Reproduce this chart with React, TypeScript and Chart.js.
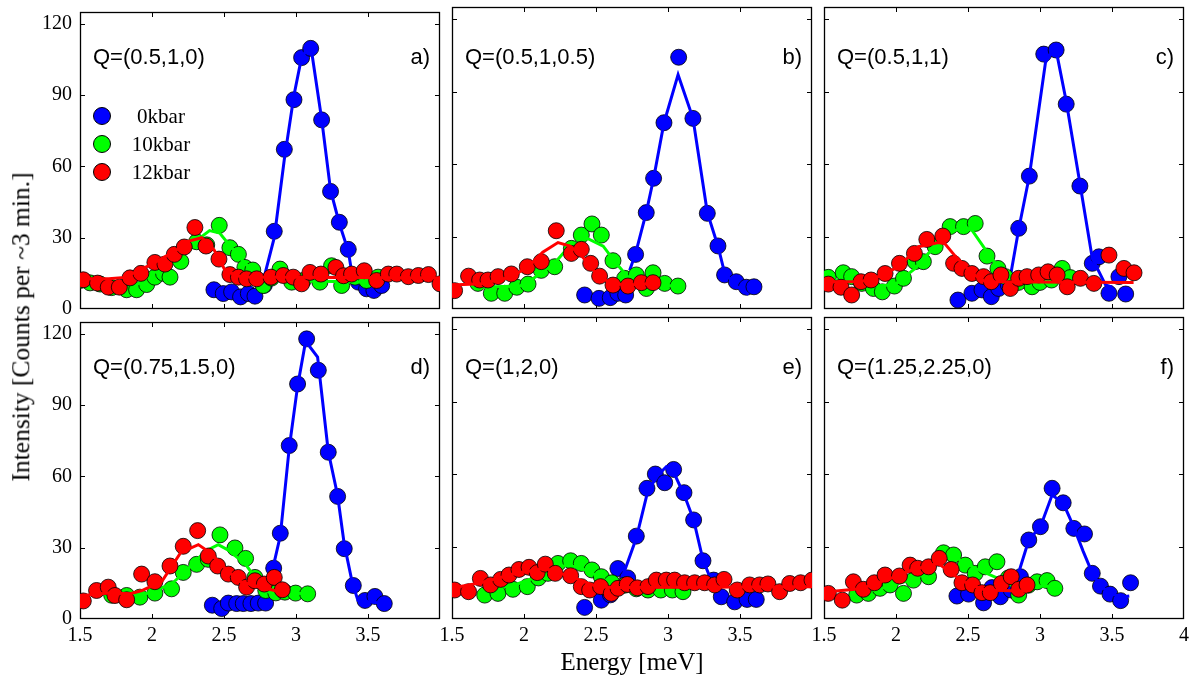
import React, { useEffect, useRef } from "react";
import { Chart, registerables } from "chart.js";

Chart.register(...registerables);

type Pt = [number, number];

// ---------- Panel a) Q=(0.5,1,0) ----------
const aBlue: Pt[] = [[2.43,8.1],[2.495,6.5],[2.553,7.2],[2.615,5.1],[2.669,6.5],[2.715,5.4],[2.78,10],[2.849,32.7],[2.919,67.2],[2.986,88.1],[3.039,105.8],[3.102,109.7],[3.178,79.6],[3.24,49.5],[3.301,36.5],[3.363,25.1],[3.433,11.3],[3.49,8.5],[3.541,7.8],[3.595,9.9]];
const aBlueFit: Pt[] = [[2.76,9],[2.849,30],[2.919,63],[2.986,90],[3.039,106],[3.102,111],[3.178,80],[3.24,50],[3.301,36],[3.363,24.4],[3.398,11.5],[3.56,11.3]];
const aGreen: Pt[] = [[1.5,12.0],[1.57,11],[1.64,10.5],[1.72,9],[1.824,8.1],[1.893,8.1],[1.963,10.3],[2.02,13.4],[2.08,15],[2.125,13.4],[2.2,20],[2.31,28.3],[2.38,27],[2.467,35.2],[2.541,25.8],[2.6,23],[2.645,17.5],[2.7,16.4],[2.773,9.9],[2.83,13],[2.889,16.8],[2.97,11.3],[3.05,12],[3.166,11.3],[3.247,18.2],[3.317,9.9],[3.41,13.4],[3.49,12],[3.57,13.4]];
const aGreenFit: Pt[] = [[1.5,11.3],[1.77,10],[1.9,10.5],[2.02,15.5],[2.16,20],[2.27,27],[2.4,33],[2.47,32],[2.55,26],[2.65,19],[2.76,12.5],[2.85,12],[3.57,11.3]];
const aRed: Pt[] = [[1.523,12.3],[1.622,10.9],[1.696,9.2],[1.773,9.2],[1.847,13.1],[1.923,15.0],[2.02,19.6],[2.09,18.9],[2.155,23.0],[2.224,26.1],[2.298,34.3],[2.375,26.5],[2.465,21.0],[2.541,14.5],[2.6,13.4],[2.657,12.7],[2.727,12.7],[2.826,13.4],[2.912,14.1],[2.981,13.4],[3.039,10.6],[3.097,15.4],[3.173,14.7],[3.277,17.5],[3.33,14],[3.386,14.7],[3.474,16.1],[3.56,12.0],[3.641,14.7],[3.7,14.7],[3.78,13.6],[3.85,14.1],[3.92,14.5],[4.0,10.6]];
const aRedFit: Pt[] = [[1.5,12.7],[1.7,12.7],[1.81,13.3],[2.0,18.9],[2.16,24.4],[2.25,28.5],[2.345,30],[2.43,25],[2.51,16],[2.62,13.5],[4.0,13]];

// ---------- Panel b) Q=(0.5,1,0.5) ----------
const bBlue: Pt[] = [[2.421,5.8],[2.521,4.4],[2.599,4.7],[2.652,6.5],[2.706,5.8],[2.775,22.6],[2.849,39.9],[2.9,54.1],[2.972,77.1],[3.074,104.2],[3.173,78.9],[3.273,39.6],[3.347,26.1],[3.393,14.1],[3.474,11.3],[3.544,9.0],[3.597,9.2]];
const bBlueFit: Pt[] = [[2.734,16],[2.775,23],[2.849,40],[2.9,54],[2.972,77],[3.07,97],[3.173,79],[3.273,40],[3.347,26],[3.393,15],[3.474,9.5],[3.56,6]];
const bGreen: Pt[] = [[1.68,10.6],[1.773,6.5],[1.866,6.5],[1.95,9],[2.028,10.3],[2.12,16],[2.213,17.5],[2.329,25.1],[2.398,30.6],[2.472,35.2],[2.537,30.6],[2.618,20.0],[2.699,12.7],[2.78,14.1],[2.85,8.5],[2.896,15.0],[2.977,10.6],[3.069,9.5]];
const bGreenFit: Pt[] = [[1.68,9],[1.97,9.5],[2.05,12],[2.213,19],[2.3,25],[2.44,29.2],[2.55,26],[2.64,18.9],[2.72,13.4],[2.82,10],[3.07,9.5]];
const bRed: Pt[] = [[1.518,7.6],[1.615,13.6],[1.692,12.0],[1.75,12.0],[1.82,13.4],[1.912,14.5],[2.023,17.5],[2.12,19.6],[2.224,32.4],[2.329,23.0],[2.398,24.7],[2.463,18.9],[2.525,13.6],[2.618,9.9],[2.722,9.5],[2.815,10.9],[2.896,10.9]];
const bRedFit: Pt[] = [[1.472,9.9],[1.7,10.5],[1.9,13],[2.03,17.5],[2.13,23.5],[2.236,27.5],[2.32,26],[2.4,22],[2.52,13.4],[2.62,10.3],[2.75,10.0],[2.9,10.6]];

// ---------- Panel c) Q=(0.5,1,1) ----------
const cBlue: Pt[] = [[2.43,3.7],[2.527,6.5],[2.597,7.9],[2.662,5.1],[2.713,8.5],[2.78,10],[2.852,33.4],[2.926,55.0],[3.026,105.5],[3.112,107.2],[3.182,84.8],[3.277,50.9],[3.363,18.9],[3.409,21.6],[3.479,6.5],[3.548,13.4],[3.595,6.2]];
const cBlueFit: Pt[] = [[2.79,12],[2.852,33],[2.926,55],[3.038,102],[3.107,108.6],[3.182,86],[3.277,52],[3.363,21],[3.455,10],[3.5,9]];
const cGreen: Pt[] = [[1.53,13.1],[1.634,15.0],[1.692,13.4],[1.762,10.6],[1.843,8.5],[1.905,7.1],[1.989,9.5],[2.052,12.7],[2.133,19.6],[2.19,19.6],[2.272,25.8],[2.376,34.1],[2.469,34.1],[2.55,35.4],[2.632,21.9],[2.708,16.8],[2.759,13.4],[2.85,11],[2.945,9.2],[3.0,11],[3.08,12],[3.154,16.8],[3.21,13]];
const cGreenFit: Pt[] = [[1.53,12],[1.76,11],[1.85,9.5],[1.99,10],[2.133,16.8],[2.225,23],[2.32,28],[2.388,32],[2.48,34],[2.53,32.4],[2.62,24.7],[2.69,18.9],[2.76,13],[2.85,11.3],[3.22,11.3]];
const cRed: Pt[] = [[1.53,10.3],[1.618,9.0],[1.692,5.8],[1.757,11.3],[1.827,12.0],[1.924,14.7],[2.024,18.9],[2.128,23.0],[2.214,28.8],[2.325,30.2],[2.4,18.9],[2.458,16.8],[2.527,14.7],[2.608,13.4],[2.662,11.3],[2.729,14.1],[2.794,8.5],[2.852,12.7],[2.91,13.4],[2.991,14.1],[3.056,15.4],[3.119,14.1],[3.189,9.2],[3.281,12.7],[3.374,10.6],[3.479,22.3],[3.583,16.8],[3.653,15.0]];
const cRedFit: Pt[] = [[1.53,11.3],[1.75,11.3],[1.85,12.7],[2.02,17.5],[2.156,25.8],[2.295,27.5],[2.34,27],[2.41,22],[2.53,14.7],[2.62,11.3],[3.65,11]];

// ---------- Panel d) Q=(0.75,1.5,0) ----------
const dBlue: Pt[] = [[2.419,5.8],[2.484,4.4],[2.53,6.7],[2.588,6.5],[2.634,6.5],[2.687,6.5],[2.738,6.7],[2.789,6.7],[2.845,21.4],[2.891,36.1],[2.953,73.0],[3.011,98.9],[3.074,117.9],[3.155,104.7],[3.224,70.2],[3.289,51.6],[3.335,29.6],[3.398,14.1],[3.479,7.8],[3.548,9.5],[3.613,6.5]];
const dBlueFit: Pt[] = [[2.83,18.9],[2.891,35],[2.953,72],[3.011,98],[3.067,116.9],[3.15,110.2],[3.224,70.5],[3.289,52],[3.335,31.5],[3.39,15.5],[3.43,7.8],[3.61,6.5]];
const dGreen: Pt[] = [[1.72,10],[1.824,9.9],[1.916,9.2],[2.02,10.9],[2.136,12.7],[2.217,19.6],[2.31,23.0],[2.391,25.1],[2.472,35.4],[2.576,29.9],[2.65,25.5],[2.715,17.5],[2.79,12],[2.86,11],[2.923,11.3],[2.997,10.9],[3.081,10.6]];
const dGreenFit: Pt[] = [[1.7,9.5],[1.82,9.5],[1.93,10],[2.136,14.7],[2.23,20],[2.37,28.5],[2.46,31.3],[2.53,29],[2.65,23],[2.715,17.5],[2.81,11.3],[3.08,10.6]];
const dRed: Pt[] = [[1.523,7.6],[1.615,12.0],[1.696,13.4],[1.743,9.9],[1.824,8.1],[1.928,18.9],[2.02,15.7],[2.125,22.3],[2.217,30.6],[2.317,37.2],[2.391,26.5],[2.456,22.3],[2.53,18.9],[2.599,17.5],[2.657,13.4],[2.715,16.1],[2.78,14.7],[2.849,17.5],[2.905,12.3]];
const dRedFit: Pt[] = [[1.523,9.9],[1.696,10.9],[1.85,10.6],[1.93,12],[2.07,16],[2.2,28],[2.322,31.3],[2.4,28],[2.48,23],[2.6,16],[2.715,14],[2.85,12],[2.905,11]];

// ---------- Panel e) Q=(1,2,0) ----------
const eBlue: Pt[] = [[2.421,4.8],[2.537,7.8],[2.6,10],[2.652,20.9],[2.72,17],[2.78,34.3],[2.854,54.1],[2.912,60.0],[2.977,56.4],[3.039,61.9],[3.111,52.3],[3.178,41.0],[3.243,24.1],[3.317,16.1],[3.37,9.2],[3.463,7.1],[3.549,8.1],[3.613,8.1]];
const eBlueFit: Pt[] = [[2.687,18],[2.78,33.5],[2.86,53],[2.93,59.5],[2.988,63],[3.045,60],[3.115,51],[3.178,41],[3.243,24.5],[3.3,16],[3.34,11]];
const eGreen: Pt[] = [[1.727,9.9],[1.819,10.6],[1.923,12.3],[2.023,13.4],[2.1,17],[2.166,18.9],[2.236,23.0],[2.324,24.1],[2.398,23.0],[2.472,20.3],[2.537,17.5],[2.61,15],[2.7,14],[2.78,12.5],[2.861,12],[2.95,12],[3.03,12],[3.104,11.3]];
const eGreenFit: Pt[] = [[1.7,12],[1.93,14],[2.16,19],[2.3,22.5],[2.44,20],[2.58,15.5],[2.72,14],[3.1,13.5]];
const eRed: Pt[] = [[1.518,12.0],[1.615,11.3],[1.697,16.8],[1.768,14.1],[1.838,16.4],[1.896,18.2],[1.965,20.5],[2.035,21.4],[2.092,19.2],[2.148,22.7],[2.217,18.9],[2.324,17.9],[2.398,13.4],[2.456,12.0],[2.532,13.4],[2.606,10.6],[2.653,12.7],[2.717,14.3],[2.787,12.9],[2.861,13.4],[2.919,16.1],[2.988,16.1],[3.046,16.1],[3.115,15.0],[3.185,15.0],[3.254,15.0],[3.324,14.1],[3.389,16.4],[3.481,12.0],[3.567,14.1],[3.636,14.1],[3.694,14.5],[3.775,11.3],[3.845,14.7],[3.921,15.0],[4.0,16.1]];
const eRedFit: Pt[] = [[1.47,12.5],[1.7,15],[1.92,18.5],[2.143,21],[2.35,17],[2.51,13.3],[2.65,13],[4.0,13.3]];

// ---------- Panel f) Q=(1.25,2.25,0) ----------
const fBlue: Pt[] = [[2.423,9.5],[2.504,10.3],[2.608,6.7],[2.666,13],[2.725,9.2],[2.8,12],[2.864,17.5],[2.922,32.7],[3.003,38.2],[3.084,54.1],[3.161,48.1],[3.235,37.5],[3.309,35.2],[3.363,18.9],[3.42,13.6],[3.486,10.3],[3.56,7.6],[3.629,15.0]];
const fBlueFit: Pt[] = [[2.83,15],[2.922,32.7],[3.003,38.2],[3.084,51.3],[3.161,48],[3.235,38],[3.3,28],[3.363,19],[3.42,13.6],[3.486,11],[3.56,9],[3.62,9.5]];
const fGreen: Pt[] = [[1.727,9.9],[1.808,10.6],[1.889,12.7],[1.959,14.1],[2.052,10.6],[2.121,16.1],[2.226,17.5],[2.33,27.4],[2.4,26.5],[2.481,22.3],[2.55,18.9],[2.62,21.6],[2.701,23.7],[2.78,17],[2.852,9.9],[2.92,14],[2.98,15.4],[3.049,15.9],[3.103,12.7]];
const fGreenFit: Pt[] = [[1.73,10.6],[1.92,13],[2.15,17],[2.33,25.8],[2.43,25],[2.55,21],[2.7,17],[2.8,14],[3.1,13.5]];
const fRed: Pt[] = [[1.53,10.6],[1.627,7.8],[1.704,15.4],[1.773,12.3],[1.85,15.0],[1.924,18.2],[2.024,17.8],[2.098,22.3],[2.151,21.0],[2.226,21.6],[2.3,25.1],[2.383,20.5],[2.458,15.0],[2.532,14.1],[2.597,10.9],[2.655,10.9],[2.732,14.7],[2.8,17.5],[2.852,12.3],[2.91,14.1]];
const fRedFit: Pt[] = [[1.53,11.3],[1.75,12.5],[1.95,16.5],[2.12,20.5],[2.295,23],[2.38,19],[2.5,14.5],[2.62,12],[2.91,11.5]];

// ---------- axes, labels ----------
const xTicks = [1.5, 2, 2.5, 3, 3.5, 4];
const yTicks = [0, 30, 60, 90, 120];
const xMin = 1.5;
const xMax = 4;
const yMin = 0;
const yMax = 125;
const seriesNames = ["0kbar", "10kbar", "12kbar"];
const seriesColors = ["#0000ff", "#00ff00", "#ff0000"];
const panelLabels = ["Q=(0.5,1,0)", "Q=(0.5,1,0.5)", "Q=(0.5,1,1)", "Q=(0.75,1.5,0)", "Q=(1,2,0)", "Q=(1.25,2.25,0)"];
const panelLetters = ["a)", "b)", "c)", "d)", "e)", "f)"];
const xTitle = "Energy [meV]";
const yTitle = "Intensity [Counts per ~3 min.]";

const panelData = [
  { blue: aBlue, blueFit: aBlueFit, green: aGreen, greenFit: aGreenFit, red: aRed, redFit: aRedFit },
  { blue: bBlue, blueFit: bBlueFit, green: bGreen, greenFit: bGreenFit, red: bRed, redFit: bRedFit },
  { blue: cBlue, blueFit: cBlueFit, green: cGreen, greenFit: cGreenFit, red: cRed, redFit: cRedFit },
  { blue: dBlue, blueFit: dBlueFit, green: dGreen, greenFit: dGreenFit, red: dRed, redFit: dRedFit },
  { blue: eBlue, blueFit: eBlueFit, green: eGreen, greenFit: eGreenFit, red: eRed, redFit: eRedFit },
  { blue: fBlue, blueFit: fBlueFit, green: fGreen, greenFit: fGreenFit, red: fRed, redFit: fRedFit },
];

// ---------- layout ----------
const COL_LEFT = [80, 452, 824];
const ROW_TOP = [7, 317];
const PW = 360;
const PH = 302;
const ML = 70;
const MT = 15;
const MR = 15;
const MB = 45;
const SERIF = "'Liberation Serif', 'Times New Roman', serif";
const SANS = "'Liberation Sans', Arial, sans-serif";

const framePlugin = {
  id: "frameTicks",
  beforeDatasetsDraw(chart: any) {
    const { ctx, chartArea: a, scales } = chart;
    const xs = scales.x;
    const ys = scales.y;
    ctx.save();
    ctx.strokeStyle = "#000";
    ctx.lineWidth = 1.3;
    ctx.strokeRect(a.left + 0.5, a.top + 0.5, a.right - a.left - 1, a.bottom - a.top - 1);
    ctx.beginPath();
    ctx.lineWidth = 1;
    const tl = 5;
    for (const v of xTicks) {
      if (v === xMin || v === xMax) continue;
      const px = Math.round(xs.getPixelForValue(v)) + 0.5;
      ctx.moveTo(px, a.bottom);
      ctx.lineTo(px, a.bottom - tl);
      ctx.moveTo(px, a.top);
      ctx.lineTo(px, a.top + tl);
    }
    for (const v of yTicks) {
      if (v === yMin) continue;
      const py = Math.round(ys.getPixelForValue(v)) + 0.5;
      ctx.moveTo(a.left, py);
      ctx.lineTo(a.left + tl, py);
      ctx.moveTo(a.right, py);
      ctx.lineTo(a.right - tl, py);
    }
    ctx.stroke();
    ctx.restore();
  },
};

function Panel({ idx }: { idx: number }) {
  const ref = useRef<HTMLCanvasElement>(null);
  const col = idx % 3;
  const row = Math.floor(idx / 3);
  useEffect(() => {
    const d = panelData[idx];
    const toXY = (arr: Pt[]) => arr.map(([x, y]) => ({ x, y }));
    const pts = (arr: Pt[], color: string, order: number) => ({
      data: toXY(arr),
      showLine: false,
      pointRadius: 8,
      pointBackgroundColor: color,
      pointBorderColor: "#000",
      pointBorderWidth: 0.8,
      order,
    });
    const fit = (arr: Pt[], color: string, order: number) => ({
      data: toXY(arr),
      showLine: true,
      borderColor: color,
      borderWidth: 3,
      pointRadius: 0,
      tension: 0,
      fill: false,
      order,
    });
    const [cb, cg, cr] = seriesColors;
    const chart = new Chart(ref.current as HTMLCanvasElement, {
      type: "scatter",
      data: {
        datasets: [
          fit(d.redFit, cr, 0),
          pts(d.red, cr, 1),
          fit(d.greenFit, cg, 2),
          pts(d.green, cg, 3),
          fit(d.blueFit, cb, 4),
          pts(d.blue, cb, 5),
        ] as any,
      },
      options: {
        animation: false,
        responsive: false,
        maintainAspectRatio: false,
        events: [],
        layout: { padding: { top: MT, right: MR, left: 0, bottom: 0 } },
        plugins: { legend: { display: false }, tooltip: { enabled: false } },
        scales: {
          x: {
            type: "linear",
            min: xMin,
            max: xMax,
            afterBuildTicks: (s: any) => {
              s.ticks = xTicks.map((v) => ({ value: v }));
            },
            afterFit: (s: any) => {
              s.height = MB;
            },
            grid: { display: false, drawTicks: false },
            border: { display: false },
            ticks: {
              display: row === 1,
              autoSkip: false,
              maxRotation: 0,
              padding: 5,
              color: "#000",
              font: { family: SERIF, size: 20 },
              callback: (v: any) => (col < 2 && Number(v) === xMax ? "" : String(v)),
            },
          },
          y: {
            type: "linear",
            min: yMin,
            max: yMax,
            afterBuildTicks: (s: any) => {
              s.ticks = yTicks.map((v) => ({ value: v }));
            },
            afterFit: (s: any) => {
              s.width = ML;
            },
            grid: { display: false, drawTicks: false },
            border: { display: false },
            ticks: {
              display: col === 0,
              autoSkip: false,
              padding: 8,
              color: "#000",
              font: { family: SERIF, size: 20 },
              callback: (v: any) => String(v),
            },
          },
        },
      } as any,
      plugins: [framePlugin],
    });
    return () => chart.destroy();
  }, [idx]);
  const w = ML + PW + MR;
  const h = MT + PH + MB;
  return (
    <canvas
      ref={ref}
      width={w}
      height={h}
      style={{ position: "absolute", left: COL_LEFT[col] - ML, top: ROW_TOP[row] - MT, width: w, height: h }}
    />
  );
}

function Annotations({ idx }: { idx: number }) {
  const col = idx % 3;
  const row = Math.floor(idx / 3);
  const cy = ROW_TOP[row] + 50;
  return (
    <>
      <div
        style={{
          position: "absolute",
          left: COL_LEFT[col] + 13,
          top: cy,
          transform: "translateY(-50%)",
          fontFamily: SANS,
          fontSize: 22,
          lineHeight: 1,
          whiteSpace: "nowrap",
          color: "#000",
        }}
      >
        {panelLabels[idx]}
      </div>
      <div
        style={{
          position: "absolute",
          left: COL_LEFT[col] + PW - 10,
          top: cy,
          transform: "translate(-100%, -50%)",
          fontFamily: SANS,
          fontSize: 22,
          lineHeight: 1,
          whiteSpace: "nowrap",
          color: "#000",
        }}
      >
        {panelLetters[idx]}
      </div>
    </>
  );
}

function Legend() {
  const rows = [116, 144, 172];
  return (
    <>
      {seriesNames.map((name, i) => (
        <React.Fragment key={name}>
          <div
            style={{
              position: "absolute",
              left: 102 - 9,
              top: rows[i] - 9,
              width: 16,
              height: 16,
              borderRadius: "50%",
              background: seriesColors[i],
              border: "1px solid #000",
            }}
          />
          <div
            style={{
              position: "absolute",
              left: 161,
              top: rows[i],
              transform: "translate(-50%, -50%)",
              fontFamily: SERIF,
              fontSize: 21,
              lineHeight: 1,
              whiteSpace: "nowrap",
              color: "#000",
            }}
          >
            {name}
          </div>
        </React.Fragment>
      ))}
    </>
  );
}

export default function App() {
  return (
    <div style={{ position: "absolute", left: 0, top: 0, width: 1196, height: 677, background: "#fff", overflow: "hidden" }}>
      {panelData.map((_, i) => (
        <Panel key={i} idx={i} />
      ))}
      {panelData.map((_, i) => (
        <Annotations key={"ann" + i} idx={i} />
      ))}
      <Legend />
      <div
        style={{
          position: "absolute",
          left: 632,
          top: 661,
          transform: "translate(-50%, -50%)",
          fontFamily: SERIF,
          fontSize: 25,
          lineHeight: 1,
          whiteSpace: "nowrap",
          color: "#000",
        }}
      >
        {xTitle}
      </div>
      <div
        style={{
          position: "absolute",
          left: 21,
          top: 327,
          transform: "translate(-50%, -50%) rotate(-90deg)",
          fontFamily: SERIF,
          fontSize: 25.5,
          lineHeight: 1,
          whiteSpace: "nowrap",
          color: "#000",
        }}
      >
        {yTitle}
      </div>
    </div>
  );
}
